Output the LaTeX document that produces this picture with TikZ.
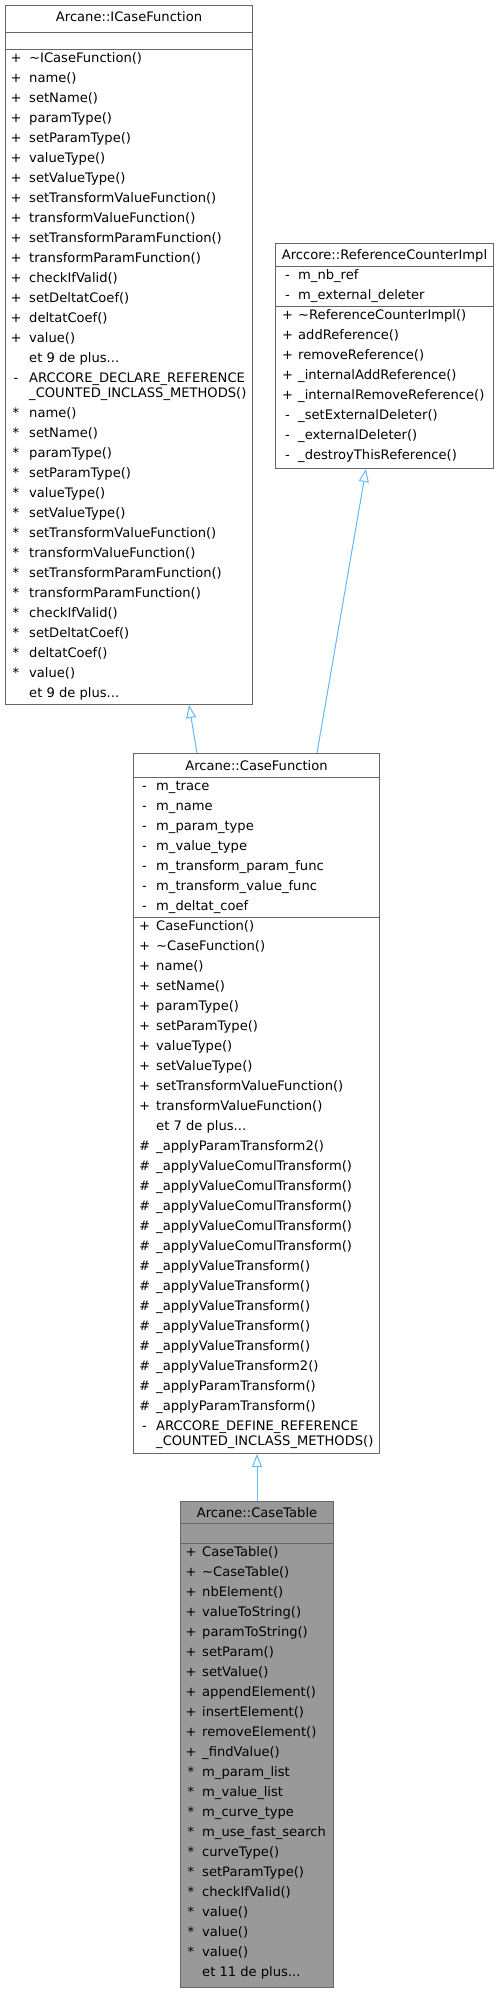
\documentclass[tikz,border=0pt]{standalone}
\usepackage{fontspec}
\setmainfont{DejaVu Sans}
\usetikzlibrary{arrows.meta,calc}
\definecolor{boxline}{HTML}{666666}
\definecolor{inheritline}{HTML}{63B8FF}
\definecolor{tablefill}{HTML}{999999}
\tikzset{
    member/.style={font=\fontsize{13.1}{15}\selectfont, inner sep=0pt, text=black},
    classbox/.style={draw=boxline, line width=1pt, fill=white, anchor=north west, inner sep=0pt},
    sep/.style={draw=boxline, line width=1pt},
    inherit/.style={draw=inheritline, line width=1pt, -{Triangle[length=13pt,width=10pt,fill=white]}}
}
\newcommand{\memberrows}[5]{
    \foreach \sym/\txt [count=\i from 0] in {#5} {
        \node[member, anchor=base] (#1s\i) at (#2, #4+20*\i) {\sym};
        \node[member, anchor=base west] (#1t\i) at (#3, #4+20*\i) {\txt};
    }
}

\begin{document}
\begin{tikzpicture}[x=1pt, y=-1pt]
        \fill[white] (0,0) rectangle (499,1992);
        \useasboundingbox (0,0) rectangle (499,1992);

        % Arcane::ICaseFunction
        \node[classbox, minimum width=247pt, minimum height=699pt] (ifunc) at (5,5) {};
        \node[member, anchor=base] (ifunctitle) at ($(ifunc.north)+(0,16.5)$) {Arcane::ICaseFunction};
        \draw[sep] (ifunc.west |- 0,32) -- (ifunc.east |- 0,32);
        \draw[sep] (ifunc.west |- 0,49) -- (ifunc.east |- 0,49);
        \memberrows{ifuncp}{16}{29}{62}{+/{\textasciitilde ICaseFunction()}, +/{name()}, +/{setName()},
            +/{paramType()}, +/{setParamType()}, +/{valueType()}, +/{setValueType()},
            +/{setTransformValueFunction()}, +/{transformValueFunction()},
            +/{setTransformParamFunction()}, +/{transformParamFunction()}, +/{checkIfValid()},
            +/{setDeltatCoef()}, +/{deltatCoef()}, +/{value()}, /{et 9 de plus...}}
        \node[member, anchor=base] (ifuncdecls) at (16,382) {-};
        \node[member, anchor=base west] (ifuncdecl) at (29,382) {ARCCORE\_DECLARE\_REFERENCE};
        \node[member, anchor=base west] (ifuncdecl2) at (29,397) {\_COUNTED\_INCLASS\_METHODS()};
        \memberrows{ifuncv}{16}{29}{417}{*/{name()}, */{setName()}, */{paramType()}, */{setParamType()},
            */{valueType()}, */{setValueType()}, */{setTransformValueFunction()},
            */{transformValueFunction()}, */{setTransformParamFunction()},
            */{transformParamFunction()}, */{checkIfValid()}, */{setDeltatCoef()},
            */{deltatCoef()}, */{value()}, /{et 9 de plus...}}

        % Arccore::ReferenceCounterImpl
        \node[classbox, minimum width=218pt, minimum height=225pt] (refcnt) at (275,243) {};
        \node[member, anchor=base] (refcnttitle) at ($(refcnt.north)+(0,16)$) {Arccore::ReferenceCounterImpl};
        \draw[sep] (refcnt.west |- 0,266) -- (refcnt.east |- 0,266);
        \draw[sep] (refcnt.west |- 0,306) -- (refcnt.east |- 0,306);
        \memberrows{refcnta}{287.5}{298}{279}{-/{m\_nb\_ref}, -/{m\_external\_deleter}}
        \memberrows{refcntm}{287.5}{298}{319}{+/{\textasciitilde ReferenceCounterImpl()},
            +/{addReference()}, +/{removeReference()}, +/{\_internalAddReference()},
            +/{\_internalRemoveReference()}, -/{\_setExternalDeleter()},
            -/{\_externalDeleter()}, -/{\_destroyThisReference()}}

        % Arcane::CaseFunction
        \node[classbox, minimum width=246pt, minimum height=700pt] (cfunc) at (133,753) {};
        \node[member, anchor=base] (cfunctitle) at ($(cfunc.north)+(0,17)$) {Arcane::CaseFunction};
        \draw[sep] (cfunc.west |- 0,777) -- (cfunc.east |- 0,777);
        \draw[sep] (cfunc.west |- 0,917) -- (cfunc.east |- 0,917);
        \memberrows{cfunca}{144.5}{156}{790}{-/{m\_trace}, -/{m\_name}, -/{m\_param\_type},
            -/{m\_value\_type}, -/{m\_transform\_param\_func}, -/{m\_transform\_value\_func},
            -/{m\_deltat\_coef}}
        \memberrows{cfuncm}{144.5}{156}{930}{+/{CaseFunction()}, +/{\textasciitilde CaseFunction()},
            +/{name()}, +/{setName()}, +/{paramType()}, +/{setParamType()}, +/{valueType()},
            +/{setValueType()}, +/{setTransformValueFunction()}, +/{transformValueFunction()},
            /{et 7 de plus...}, \#/{\_applyParamTransform2()},
            \#/{\_applyValueComulTransform()}, \#/{\_applyValueComulTransform()},
            \#/{\_applyValueComulTransform()}, \#/{\_applyValueComulTransform()},
            \#/{\_applyValueComulTransform()}, \#/{\_applyValueTransform()},
            \#/{\_applyValueTransform()}, \#/{\_applyValueTransform()},
            \#/{\_applyValueTransform()}, \#/{\_applyValueTransform()},
            \#/{\_applyValueTransform2()}, \#/{\_applyParamTransform()},
            \#/{\_applyParamTransform()}}
        \node[member, anchor=base] (cfuncdefs) at (144.5,1430) {-};
        \node[member, anchor=base west] (cfuncdef) at (156,1430) {ARCCORE\_DEFINE\_REFERENCE};
        \node[member, anchor=base west] (cfuncdef2) at (156,1445) {\_COUNTED\_INCLASS\_METHODS()};

        % Arcane::CaseTable
        \node[classbox, fill=tablefill, minimum width=153pt, minimum height=486pt] (ctable) at (180,1501) {};
        \node[member, anchor=base] (ctabletitle) at ($(ctable.north)+(0,16)$) {Arcane::CaseTable};
        \draw[sep] (ctable.west |- 0,1523) -- (ctable.east |- 0,1523);
        \draw[sep] (ctable.west |- 0,1543) -- (ctable.east |- 0,1543);
        \memberrows{ctablem}{191}{202}{1556}{+/{CaseTable()}, +/{\textasciitilde CaseTable()},
            +/{nbElement()}, +/{valueToString()}, +/{paramToString()}, +/{setParam()},
            +/{setValue()}, +/{appendElement()}, +/{insertElement()}, +/{removeElement()},
            +/{\_findValue()}, */{m\_param\_list}, */{m\_value\_list}, */{m\_curve\_type},
            */{m\_use\_fast\_search}, */{curveType()}, */{setParamType()}, */{checkIfValid()},
            */{value()}, */{value()}, */{value()}, /{et 11 de plus...}}

        % inheritance
        \draw[inherit] ($(cfunc.north west)+(64,0)$) -- ($(ifunc.south west)+(184,0)$);
        \draw[inherit] ($(cfunc.north west)+(184,0)$) -- ($(refcnt.south west)+(91,0)$);
        \draw[inherit] (ctable.north) -- (ctable.north |- cfunc.south);
    \end{tikzpicture}
\end{document}
